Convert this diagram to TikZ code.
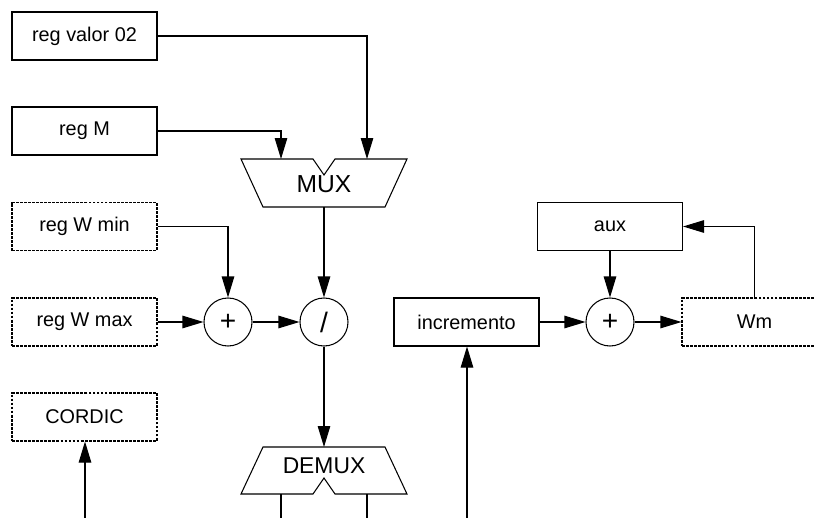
\documentclass[tikz,border=0pt]{standalone}
\usepackage{fontspec}
\setmainfont{Liberation Sans}
\usetikzlibrary{arrows.meta}
\usetikzlibrary{positioning}

\tikzset{
	reg/.style={draw, line width=0.6pt, minimum width=2.9cm, minimum height=0.96cm, inner sep=0pt, font=\fontsize{11.3}{13}\selectfont},
	dreg/.style={reg, dash pattern=on 1.6pt off 0.7pt},
	op/.style={draw, circle, line width=0.6pt, minimum size=0.96cm, inner sep=0pt, font=\fontsize{16}{18}\selectfont},
}

\begin{document}
\begin{tikzpicture}[>={Triangle[length=0.42cm,width=0.25cm]}, line width=0.6pt]
		\useasboundingbox (0,0) rectangle (16.3,-10.36);
		% registros
		\node[reg] (valor) at (1.69,-0.72) {reg valor 02};
		\node[reg] (regM) at (1.69,-2.62) {reg M};
		\node[dreg] (wmin) at (1.69,-4.53) {reg W min};
		\node[dreg] (wmax) at (1.69,-6.44) {reg W max};
		\node[dreg] (cordic) at (1.69,-8.34) {CORDIC};
		\node[op] (sum1) at (4.56,-6.44) {+};
		\node[op] (div) at (6.48,-6.44) {/};
		\node[reg] (incr) at (9.33,-6.44) {incremento};
		\node[op] (sum2) at (12.2,-6.44) {+};
		\node[reg] (aux) at (12.2,-4.53) {aux};
		\node[dreg] (wm) at (15.09,-6.44) {Wm};
		% MUX
		\draw (4.82,-3.18) -- (6.26,-3.18) -- (6.48,-3.50) -- (6.70,-3.18) -- (8.14,-3.18) -- (7.70,-4.14) -- (5.26,-4.14) -- cycle;
		\node[font=\fontsize{14}{16}\selectfont] (mux) at (6.48,-3.68) {MUX};
		\coordinate (muxA) at (5.62,-3.18);
		\coordinate (muxB) at (7.34,-3.18);
		\coordinate (muxout) at (6.48,-4.14);
		% DEMUX
		\draw (5.26,-8.94) -- (7.70,-8.94) -- (8.14,-9.88) -- (6.70,-9.88) -- (6.48,-9.56) -- (6.26,-9.88) -- (4.82,-9.88) -- cycle;
		\node[font=\fontsize{13}{15}\selectfont] (demux) at (6.48,-9.32) {DEMUX};
		\coordinate (demuxin) at (6.48,-8.94);
		\coordinate (demuxA) at (5.62,-9.88);
		\coordinate (demuxB) at (7.34,-9.88);
		% extremos abiertos
		\coordinate (endA) at (5.62,-10.36);
		\coordinate (endB) at (7.34,-10.36);
		\coordinate (cordicin) at (1.70,-10.36);
		\coordinate (incrin) at (9.34,-10.36);
		% conexiones
		\draw [->] (valor.east) -| (muxB);
		\draw [->] (regM.east) -| (muxA);
		\draw [->] (muxout) -- (div.north);
		\draw [->] (wmin.east) -| (sum1.north);
		\draw [->] (wmax.east) -- (sum1.west);
		\draw [->] (sum1.east) -- (div.west);
		\draw [->] (div.south) -- (demuxin);
		\draw (demuxA) -- (endA);
		\draw (demuxB) -- (endB);
		\draw [->] (cordicin) -- (cordicin |- cordic.south);
		\draw [->] (incrin) -- (incrin |- incr.south);
		\draw [->] (incr.east) -- (sum2.west);
		\draw [->] (aux.south) -- (sum2.north);
		\draw [->] (sum2.east) -- (wm.west);
		\draw [->] (wm.north) |- (aux.east);
		\end{tikzpicture}
\end{document}
